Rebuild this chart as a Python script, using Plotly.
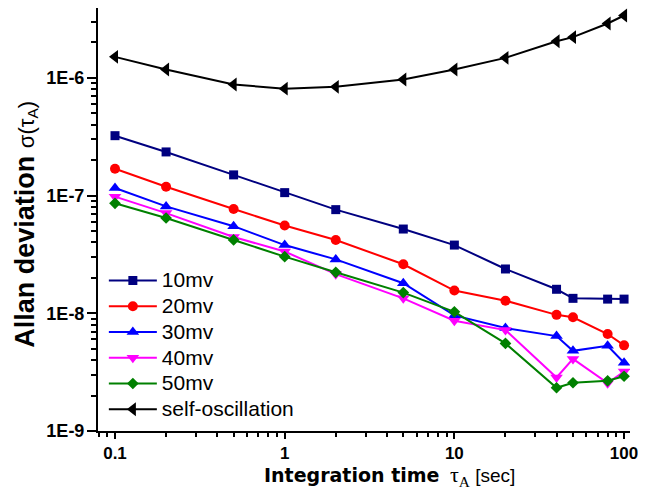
import plotly.graph_objects as go

tau = [0.1, 0.2, 0.5, 1, 2, 5, 10, 20, 40, 50, 80, 100]

mv10 = [3.23e-7, 2.35e-7, 1.50e-7, 1.06e-7, 7.6e-8, 5.2e-8, 3.8e-8, 2.38e-8, 1.60e-8, 1.34e-8, 1.32e-8, 1.32e-8]
mv20 = [1.69e-7, 1.19e-7, 7.7e-8, 5.57e-8, 4.2e-8, 2.61e-8, 1.56e-8, 1.28e-8, 9.7e-9, 9.25e-9, 6.67e-9, 5.34e-9]
mv30 = [1.16e-7, 8.1e-8, 5.5e-8, 3.8e-8, 2.87e-8, 1.80e-8, 9.6e-9, 7.5e-9, 6.4e-9, 4.8e-9, 5.3e-9, 3.8e-9]
mv40 = [9.8e-8, 7.1e-8, 4.45e-8, 3.35e-8, 2.15e-8, 1.34e-8, 8.65e-9, 7.2e-9, 2.85e-9, 4.1e-9, 2.55e-9, 3.2e-9]
mv50 = [8.6e-8, 6.45e-8, 4.2e-8, 3.03e-8, 2.23e-8, 1.50e-8, 1.03e-8, 5.55e-9, 2.33e-9, 2.57e-9, 2.67e-9, 2.92e-9]
selfosc = [1.51e-6, 1.18e-6, 8.8e-7, 8.1e-7, 8.4e-7, 9.7e-7, 1.18e-6, 1.48e-6, 2.05e-6, 2.22e-6, 2.90e-6, 3.39e-6]

names = ["10mv", "20mv", "30mv", "40mv", "50mv", "self-oscillation"]
series = [mv10, mv20, mv30, mv40, mv50, selfosc]
colors = ["#000080", "#FF0000", "#0000FF", "#FF00FF", "#008000", "#000000"]
symbols = ["square", "circle", "triangle-up", "triangle-down", "diamond", "triangle-left"]
sizes = [9, 10, 11, 11, 9, 12]

x_tickvals = [0.1, 1, 10, 100]
x_ticktext = ["0.1", "1", "10", "100"]
y_tickvals = [1e-9, 1e-8, 1e-7, 1e-6]
y_ticktext = ["1E-9", "1E-8", "1E-7", "1E-6"]

fig = go.Figure()
for n, s, c, sym, sz in zip(names, series, colors, symbols, sizes):
    fig.add_trace(go.Scatter(
        x=tau, y=s, mode="lines+markers",
        name="<span style='font-size:21px'>" + n + "</span>",
        line=dict(color=c, width=2),
        marker=dict(symbol=sym, size=sz, color=c, line=dict(width=0)),
    ))

# the page body has an 8px margin, so the figure is 8px smaller on each axis
fig.update_layout(
    width=638, height=481,
    margin=dict(l=90, r=16, t=0, b=58),
    paper_bgcolor="white", plot_bgcolor="white",
    font=dict(family="Liberation Sans, Arial, sans-serif", color="black"),
    showlegend=True,
    legend=dict(
        x=0.011, y=0.398, xanchor="left", yanchor="top",
        bgcolor="rgba(0,0,0,0)", font=dict(size=17.5, family="Liberation Sans, Arial"),
        itemwidth=48, tracegroupgap=0,
    ),
)

fig.update_xaxes(
    type="log", range=[-1.1002, 2.035],
    tickvals=x_tickvals, ticktext=x_ticktext,
    showgrid=False, zeroline=False,
    showline=True, linecolor="black", linewidth=2,
    ticks="outside", ticklen=6, tickwidth=2, tickcolor="black",
    tickfont=dict(family="Liberation Sans, Arial", size=17, weight="bold"),
    ticklabelstandoff=0,
    minor=dict(ticks="outside", ticklen=4, tickwidth=2, tickcolor="black", dtick="D1", showgrid=False),
)
fig.update_yaxes(
    type="log", range=[-9, -5.406],
    tickvals=y_tickvals, ticktext=y_ticktext,
    showgrid=False, zeroline=False,
    showline=True, linecolor="black", linewidth=2,
    ticks="outside", ticklen=9, tickwidth=2, tickcolor="black",
    tickfont=dict(family="Liberation Sans, Arial", size=18, weight="bold"),
    ticklabelstandoff=-1,
    minor=dict(ticks="outside", ticklen=5, tickwidth=2, tickcolor="black", dtick="D1", showgrid=False),
)

fig.add_annotation(
    xref="paper", yref="paper", x=-0.137, y=0.488,
    xanchor="center", yanchor="middle", textangle=-90, showarrow=False,
    text="<b>Allan deviation </b><span style='font-size:22px'>σ(τ<sub>A</sub>)</span>",
    font=dict(family="Liberation Sans, Arial", size=27, color="black"),
)
fig.add_annotation(
    xref="paper", yref="paper", x=0.548, y=-0.106,
    xanchor="center", yanchor="middle", showarrow=False,
    text="<span style='font-family:DejaVu Sans;font-weight:bold'>Integration time</span>  "
         "<span style='font-family:Liberation Serif;font-size:22px'>τ<sub>A</sub></span> [sec]",
    font=dict(family="Liberation Sans, Arial", size=19, color="black"),
)

fig.write_html("out.html")
